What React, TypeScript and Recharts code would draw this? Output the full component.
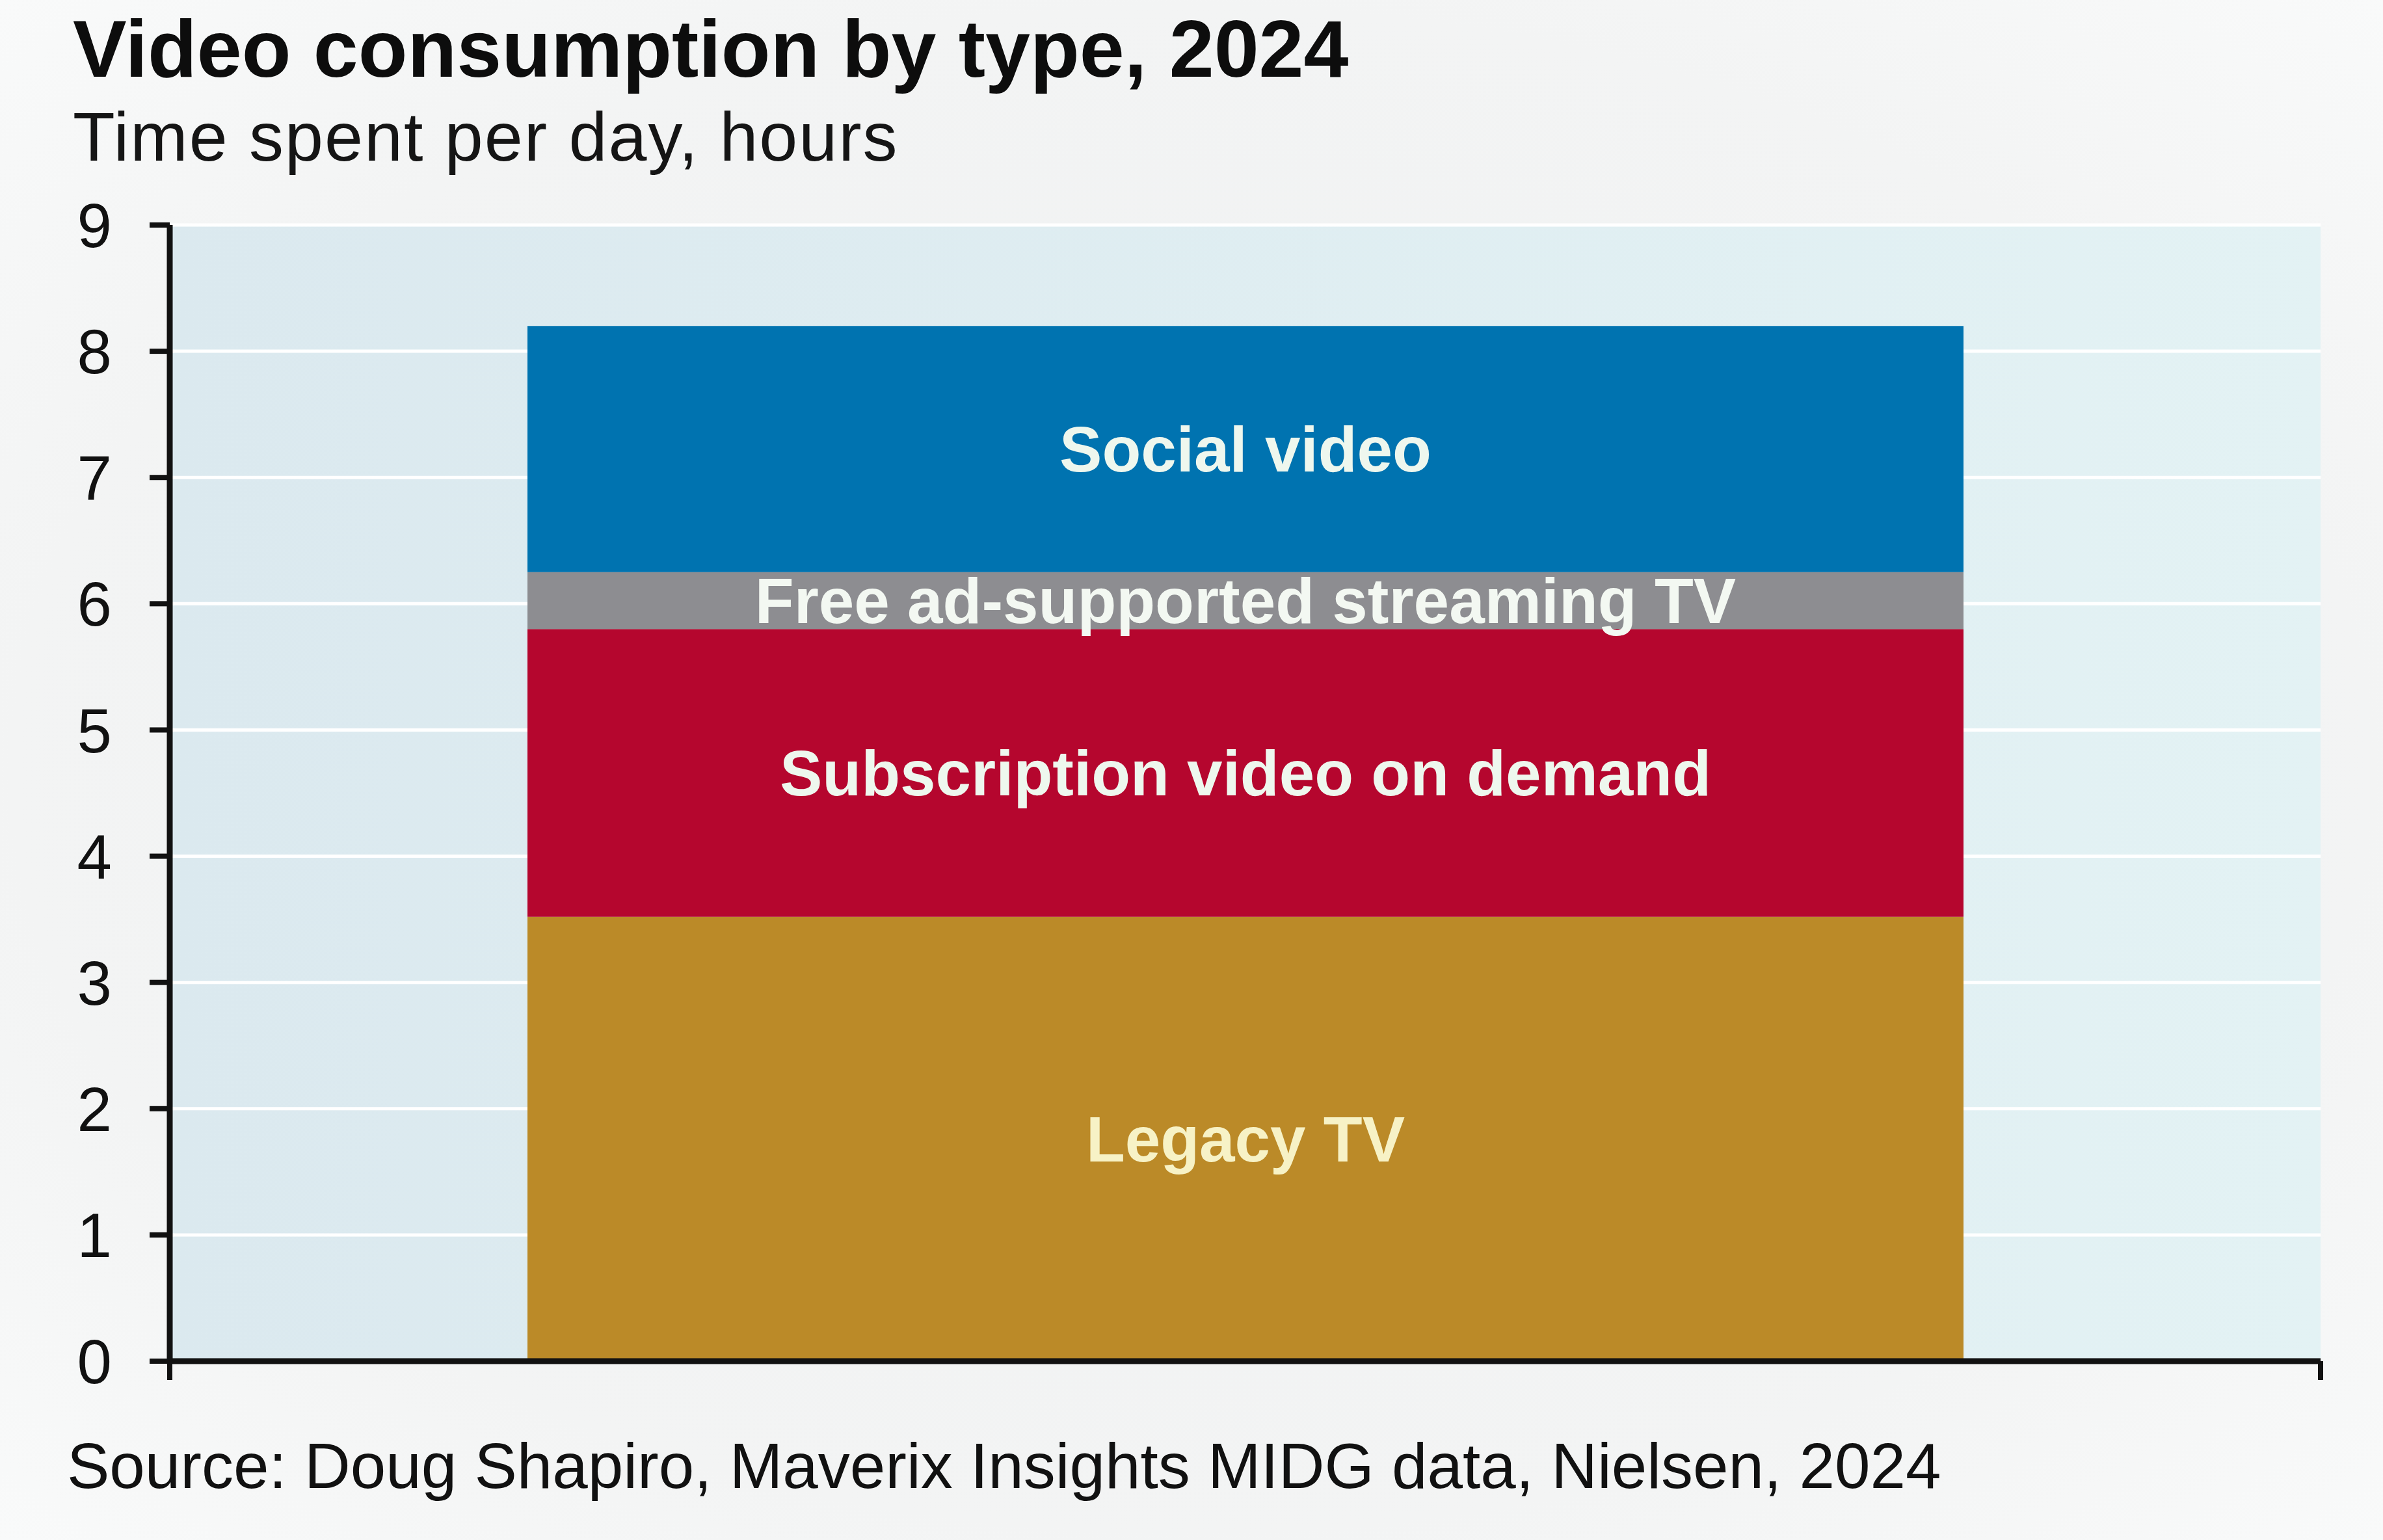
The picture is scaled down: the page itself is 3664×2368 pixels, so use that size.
import { BarChart, Bar, CartesianGrid, LabelList, XAxis, YAxis } from "recharts";

const years = ["2024"];
const legacyTv = [3.52];
const subscriptionVod = [2.28];
const freeAdStreaming = [0.45];
const socialVideo = [1.95];
const yTicks = [0, 1, 2, 3, 4, 5, 6, 7, 8, 9];

const series = [
  { key: "legacy", name: "Legacy TV", values: legacyTv, color: "#bb8a28", text: "#f7f2c6" },
  { key: "svod", name: "Subscription video on demand", values: subscriptionVod, color: "#b5062e", text: "#eef7ee" },
  { key: "fast", name: "Free ad-supported streaming TV", values: freeAdStreaming, color: "#8d8d91", text: "#f3f8f2" },
  { key: "social", name: "Social video", values: socialVideo, color: "#0073b0", text: "#eef7ee" },
];

const data = years.map((year, i) => {
  const row: Record<string, string | number> = { year };
  series.forEach((s) => {
    row[s.key] = s.values[i];
  });
  return row;
});

const FONT = '"Liberation Sans", Arial, Helvetica, sans-serif';

// chart frame
const W = 3664;
const H = 2368;
const Y_AXIS_W = 261;
const X_AXIS_H = 275;
const MARGIN = { top: 346, right: 96, bottom: 0, left: 0 };
const plotLeft = MARGIN.left + Y_AXIS_W;
const plotRight = W - MARGIN.right;
const plotBottom = H - MARGIN.bottom - X_AXIS_H;

const App = () => {
  return (
    <div
      style={{
        position: "absolute",
        left: 0,
        top: 0,
        width: W,
        height: H,
        background: "radial-gradient(ellipse at center, #eef0f1 0%, #f3f4f4 70%, #f9fafa 100%)",
        fontFamily: FONT,
      }}
    >
      <svg
        width={W}
        height={H}
        style={{ position: "absolute", left: 0, top: 0, pointerEvents: "none" }}
      >
        <text x={112} y={118} fontSize={124} fontWeight={700} fill="#0d0d0d" fontFamily={FONT}>
          Video consumption by type, 2024
        </text>
        <text x={112} y={247} fontSize={106} fill="#151515" fontFamily={FONT} letterSpacing={2}>
          Time spent per day, hours
        </text>
        <text x={103} y={2288} fontSize={98} fill="#111" fontFamily={FONT}>
          Source: Doug Shapiro, Maverix Insights MIDG data, Nielsen, 2024
        </text>
        {/* end ticks of the x axis */}
        <line x1={plotLeft} x2={plotLeft} y1={plotBottom} y2={plotBottom + 29} stroke="#111" strokeWidth={8} />
        <line x1={plotRight} x2={plotRight} y1={plotBottom} y2={plotBottom + 29} stroke="#111" strokeWidth={8} />
      </svg>

      <div style={{ position: "absolute", left: 0, top: 0 }}>
        <BarChart width={W} height={H} data={data} margin={MARGIN}>
          <defs>
            <linearGradient id="plotBg" x1="0" y1="0" x2="1" y2="0">
              <stop offset="0%" stopColor="#dbe9ef" />
              <stop offset="100%" stopColor="#e3f2f4" />
            </linearGradient>
          </defs>
          <CartesianGrid
            vertical={false}
            stroke="#ffffff"
            strokeWidth={5}
            fill="url(#plotBg)"
            fillOpacity={1}
          />
          <XAxis
            dataKey="year"
            tick={false}
            tickLine={false}
            axisLine={{ stroke: "#111", strokeWidth: 9 }}
            height={X_AXIS_H}
          />
          <YAxis
            type="number"
            domain={[0, 9]}
            ticks={yTicks}
            width={Y_AXIS_W}
            tickSize={31}
            tickMargin={58}
            tickLine={{ stroke: "#111", strokeWidth: 8 }}
            axisLine={{ stroke: "#111", strokeWidth: 9 }}
            tick={{ fill: "#111", fontSize: 96, fontFamily: FONT }}
          />
          {series.map((s) => (
            <Bar
              key={s.key}
              dataKey={s.key}
              name={s.name}
              stackId="total"
              fill={s.color}
              barSize={2208}
              isAnimationActive={false}
            >
              <LabelList
                dataKey={s.key}
                position="center"
                formatter={() => s.name}
                fill={s.text}
                fontSize={98}
                fontWeight={700}
                fontFamily={FONT}
              />
            </Bar>
          ))}
        </BarChart>
      </div>
    </div>
  );
};

export default App;
